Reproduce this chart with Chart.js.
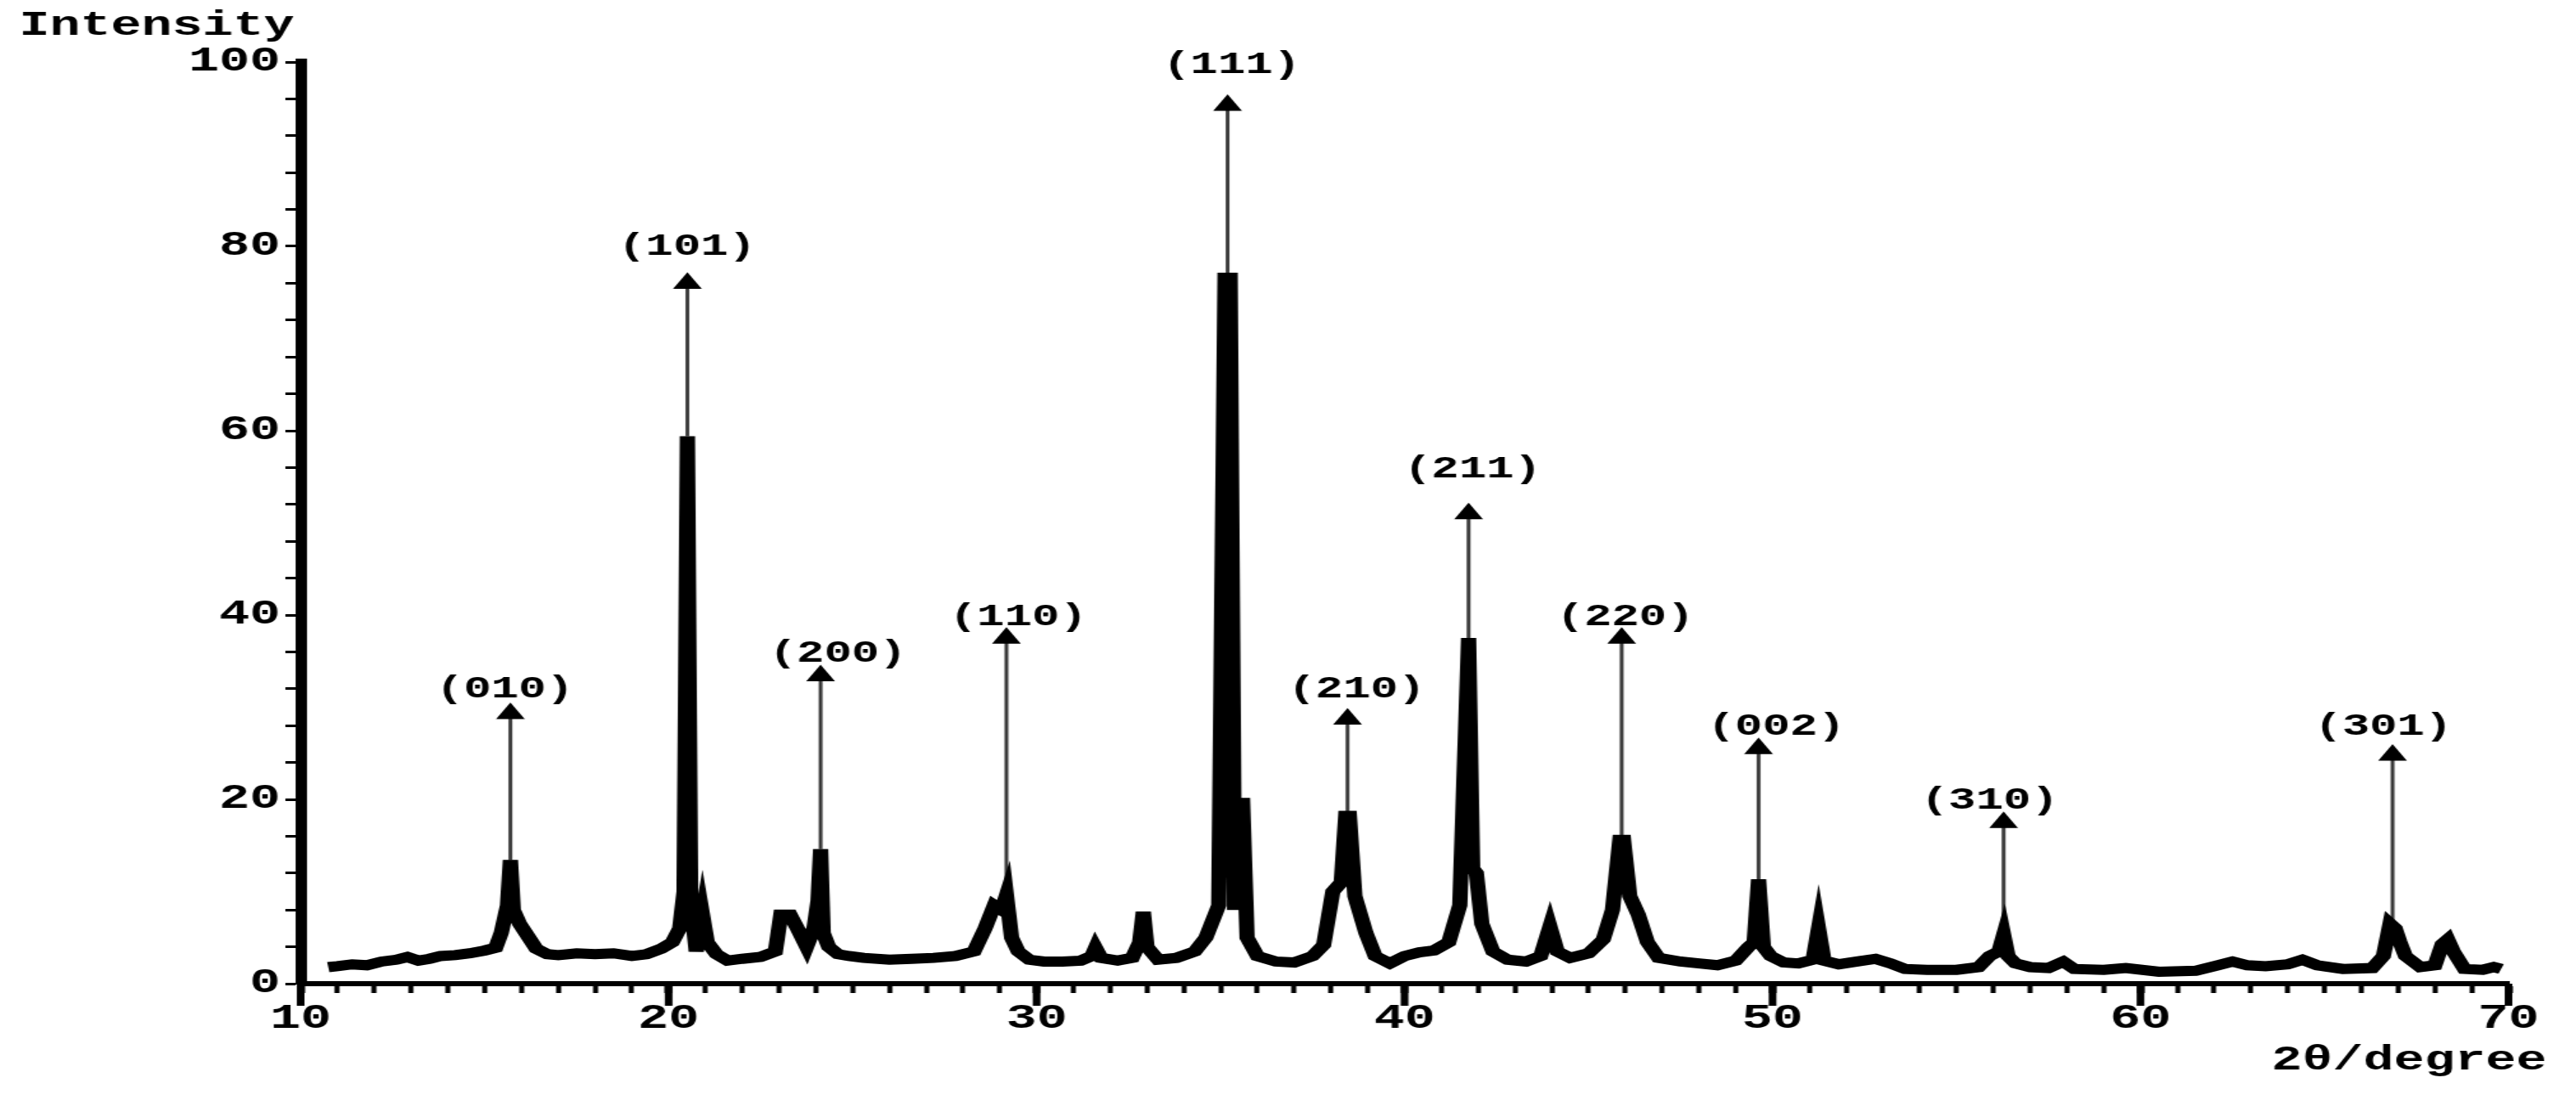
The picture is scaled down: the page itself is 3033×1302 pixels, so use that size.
<!DOCTYPE html>
<html>
<head>
<meta charset="utf-8">
<title>XRD pattern</title>
<script src="https://cdn.jsdelivr.net/npm/chart.js@4.4.1/dist/chart.umd.min.js"></script>
<style>
    html, body { margin: 0; padding: 0; background: #fff; overflow: hidden; }
    /* the original figure is stretched sideways, so the chart is drawn narrow and widened */
    #wrap { width: 2022px; height: 1302px; transform: scaleX(1.5); transform-origin: 0 0; }
</style>
</head>
<body>
<div id="wrap"><canvas id="xrd"></canvas></div>
<script>
// 2theta (degree) and intensity
const twoTheta = [
    10.75, 11.0, 11.4, 11.8, 12.2, 12.6, 12.9, 13.2, 13.5, 13.8, 14.2, 14.6, 15.0, 15.3, 15.45, 15.62,
    15.7, 15.78, 15.95, 16.2, 16.4, 16.7, 17.0, 17.5, 18.0, 18.5, 19.0, 19.4, 19.8, 20.1, 20.3, 20.42,
    20.51, 20.6, 20.75, 20.92, 21.05, 21.3, 21.6, 22.0, 22.5, 22.9, 23.05, 23.3, 23.5, 23.75, 23.95, 24.06,
    24.13, 24.2, 24.35, 24.6, 24.9, 25.3, 26.0, 26.6, 27.2, 27.8, 28.3, 28.6, 28.85, 29.05, 29.18, 29.32,
    29.5, 29.8, 30.2, 30.7, 31.2, 31.5, 31.6, 31.75, 32.2, 32.6, 32.8, 32.9, 33.0, 33.3, 33.8, 34.3,
    34.6, 34.95, 35.12, 35.26, 35.38, 35.5, 35.6, 35.72, 36.0, 36.5, 37.0, 37.5, 37.8, 38.05, 38.28, 38.4,
    38.5, 38.65, 38.95, 39.2, 39.6, 40.0, 40.4, 40.8, 41.2, 41.5, 41.74, 41.85, 41.95, 42.1, 42.4, 42.8,
    43.3, 43.7, 43.95, 44.15, 44.5, 45.0, 45.4, 45.65, 45.85, 45.95, 46.12, 46.35, 46.6, 46.9, 47.5, 48.0,
    48.5, 49.0, 49.35, 49.5, 49.62, 49.75, 49.95, 50.3, 50.7, 51.1, 51.25, 51.4, 51.8, 52.3, 52.8, 53.2,
    53.6, 54.2, 55.0, 55.6, 55.9, 56.15, 56.28, 56.4, 56.6, 57.0, 57.5, 57.9, 58.2, 59.0, 59.6, 60.5,
    61.5, 62.1, 62.5, 62.9, 63.4, 64.0, 64.4, 64.8, 65.5, 66.3, 66.6, 66.78, 66.92, 67.05, 67.2, 67.6,
    68.0, 68.2, 68.35, 68.5, 68.8, 69.3, 69.6, 69.8
];
const intensity = [
    1.8, 1.9, 2.1, 2.0, 2.4, 2.6, 2.9, 2.5, 2.7, 3.0, 3.1, 3.3, 3.6, 3.9, 5.5, 8.5,
    13.4, 8.0, 6.5, 5.0, 3.8, 3.2, 3.1, 3.3, 3.2, 3.3, 3.0, 3.2, 3.8, 4.5, 6.0, 10.0,
    59.4, 9.0, 3.5, 7.5, 4.5, 3.2, 2.5, 2.7, 2.9, 3.5, 7.5, 7.5, 6.0, 4.0, 6.0, 9.0,
    14.6, 5.5, 4.0, 3.2, 3.0, 2.8, 2.6, 2.7, 2.8, 3.0, 3.5, 6.0, 8.5, 8.0, 9.6, 5.0,
    3.5, 2.6, 2.4, 2.4, 2.5, 3.0, 3.9, 2.8, 2.5, 2.8, 4.5, 7.8, 4.0, 2.6, 2.8, 3.5,
    5.0, 8.5, 76.6, 76.6, 8.0, 19.6, 19.6, 5.0, 3.0, 2.4, 2.3, 3.0, 4.2, 10.0, 11.0, 18.2,
    18.2, 9.5, 5.5, 3.0, 2.2, 3.0, 3.4, 3.6, 4.5, 8.5, 37.5, 12.5, 12.0, 6.5, 3.5, 2.6,
    2.4, 3.0, 6.2, 3.5, 2.8, 3.3, 4.8, 8.0, 15.6, 15.6, 9.5, 7.5, 4.5, 2.8, 2.4, 2.2,
    2.0, 2.5, 4.0, 4.5, 11.3, 4.0, 3.0, 2.3, 2.2, 2.6, 6.0, 2.5, 2.1, 2.4, 2.7, 2.2,
    1.6, 1.5, 1.5, 1.8, 3.0, 3.5, 5.3, 3.0, 2.2, 1.8, 1.7, 2.4, 1.6, 1.5, 1.7, 1.3,
    1.4, 2.0, 2.4, 2.0, 1.9, 2.1, 2.6, 2.0, 1.6, 1.7, 3.0, 6.5, 6.0, 4.5, 3.0, 1.8,
    2.0, 4.3, 4.8, 3.5, 1.6, 1.5, 1.8, 1.6
];

// Miller indices of the marked reflections
const hklLabels = ['(010)', '(101)', '(200)', '(110)', '(111)', '(210)', '(211)', '(220)', '(002)', '(310)', '(301)'];
const peakPos = [15.7, 20.51, 24.13, 29.18, 35.19, 38.45, 41.74, 45.9, 49.62, 56.28, 66.85];
const peakTop = [13.4, 59.4, 14.6, 9.6, 76.6, 18.2, 37.5, 15.6, 11.3, 5.3, 6.3];
const arrowEnd = [29.3, 76.0, 33.4, 37.5, 95.3, 28.7, 51.0, 37.5, 25.5, 17.5, 24.8];
const labelPos = [15.55, 20.5, 24.6, 29.5, 35.3, 38.7, 41.85, 46.0, 50.1, 55.9, 66.6];
const labelHeight = [31.9, 79.9, 35.8, 39.7, 99.6, 31.9, 55.8, 39.7, 27.8, 19.8, 27.8];

const FONT = "'Liberation Mono', 'DejaVu Sans Mono', monospace";

Chart.defaults.color = '#000';
Chart.defaults.font.family = FONT;

const spectrum = twoTheta.map((t, i) => ({ x: t, y: intensity[i] }));

const arrowSets = hklLabels.map((name, i) => ({
    label: name,
    data: [{ x: peakPos[i], y: peakTop[i] }, { x: peakPos[i], y: arrowEnd[i] }],
    showLine: true,
    borderColor: '#3c3c3c',
    borderWidth: 3,
    pointStyle: 'triangle',
    pointRadius: [0, 13],
    pointHoverRadius: [0, 13],
    pointBackgroundColor: '#000',
    pointBorderColor: '#000',
    pointBorderWidth: 0,
    order: 2
}));

// hkl labels, long major ticks and the two axis captions
const annotate = {
    id: 'annotate',
    afterDatasetsDraw(chart) {
        const { ctx, chartArea, scales: { x, y } } = chart;
        ctx.save();
        ctx.fillStyle = '#000';
        ctx.font = `bold 36px ${FONT}`;
        ctx.textAlign = 'center';
        ctx.textBaseline = 'middle';
        hklLabels.forEach((name, i) => {
            ctx.fillText(name, x.getPixelForValue(labelPos[i]), y.getPixelForValue(labelHeight[i]));
        });

        ctx.strokeStyle = '#000';
        ctx.lineWidth = 6;
        x.ticks.filter(t => t.value % 10 === 0).forEach(t => {
            const px = x.getPixelForValue(t.value);
            ctx.beginPath();
            ctx.moveTo(px, chartArea.bottom);
            ctx.lineTo(px, chartArea.bottom + 26);
            ctx.stroke();
        });

        ctx.font = `bold 40px ${FONT}`;
        ctx.textAlign = 'left';
        ctx.fillText('Intensity', 15, 31);
        ctx.textAlign = 'right';
        ctx.fillText('2θ/degree', chart.width - 23, 1249);
        ctx.restore();
    }
};

new Chart(document.getElementById('xrd'), {
    type: 'scatter',
    data: {
        datasets: [{
            label: 'XRD',
            data: spectrum,
            showLine: true,
            borderColor: '#000',
            borderWidth: 12,
            borderJoinStyle: 'miter',
            pointRadius: 0,
            pointHoverRadius: 0,
            order: 1
        }, ...arrowSets]
    },
    options: {
        responsive: true,
        maintainAspectRatio: false,
        animation: false,
        events: [],
        layout: { padding: { top: 73, right: 53, left: 0, bottom: 0 } },
        plugins: {
            legend: { display: false },
            tooltip: { enabled: false }
        },
        scales: {
            x: {
                type: 'linear',
                min: 10,
                max: 70,
                afterFit: scale => { scale.height = 144; },
                border: { display: true, color: '#000', width: 6 },
                grid: {
                    drawOnChartArea: false,
                    drawTicks: true,
                    tickLength: 11,
                    tickColor: '#000',
                    tickWidth: ctx => (ctx.tick && ctx.tick.value % 10 === 0 ? 6 : 4)
                },
                ticks: {
                    stepSize: 1,
                    autoSkip: false,
                    maxRotation: 0,
                    padding: 7,
                    font: { size: 40, weight: 'bold' },
                    callback: v => (v % 10 === 0 ? v : '')
                }
            },
            y: {
                type: 'linear',
                min: 0,
                max: 100,
                afterFit: scale => { scale.width = 236; },
                border: { display: true, color: '#000', width: 9 },
                grid: {
                    drawOnChartArea: false,
                    drawTicks: true,
                    tickLength: 12,
                    tickColor: '#000',
                    tickWidth: 3
                },
                ticks: {
                    stepSize: 4,
                    autoSkip: false,
                    padding: 4,
                    font: { size: 40, weight: 'bold' },
                    callback: v => (v % 20 === 0 ? v : '')
                }
            }
        }
    },
    plugins: [annotate]
});
</script>
</body>
</html>
